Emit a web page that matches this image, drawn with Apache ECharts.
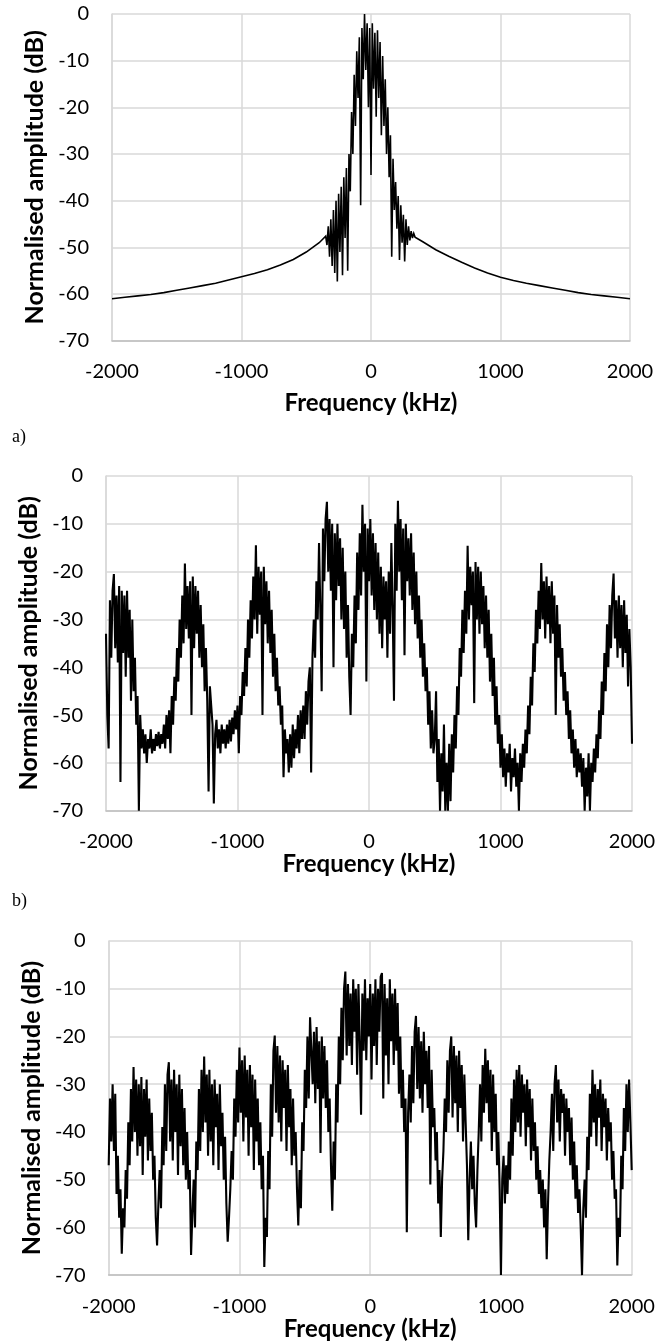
<!DOCTYPE html>
<html><head><meta charset="utf-8">
<script src="https://cdn.jsdelivr.net/npm/echarts@6/dist/echarts.min.js"></script>
<style>html,body{margin:0;padding:0;background:#fff}#c{width:668px;height:1342px}</style>
</head><body><div id="c"></div>
<script>
// ---------- data ----------
const xTicks = [-2000, -1000, 0, 1000, 2000];
const yTicks = [-70, -60, -50, -40, -30, -20, -10, 0];
const panelLabels = ['a)', 'b)'];

// chart a) : smooth skirts sampled every 100 kHz, noisy core every 10 kHz
const freqA_left = [-2000,-1900,-1800,-1700,-1600,-1500,-1400,-1300,-1200,-1100,-1000,-900,-800,-700,-600,-500,-400];
const ampA_left = [-61.0,-60.7,-60.4,-60.1,-59.7,-59.2,-58.7,-58.2,-57.7,-57.0,-56.3,-55.6,-54.8,-53.8,-52.6,-51.0,-49.0];
const freqA_coreStart = -350, freqA_coreStep = 10;
const ampA_core = [
 -47.6,-49.5,-45.5,-52,-44,-54,-42,-55.5,-40,-57.3,
 -38.5,-51,-37,-56,-35,-48,-33,-55,-30,-38,
 -21,-30,-13,-24,-8,-18,-5,-41,-3,-14,
 0,-12,-2,-20,-3,-34.5,-2,-16,-4,-22,
 -3.5,-18,-6,-26,-9,-24,-14,-30,-20,-35,
 -26,-52,-31,-42,-36,-46,-39,-52.7,-41,-49,
 -43,-53,-44,-49.5,-45.5,-48.5,-46.5,-48,-47,-47.8,
 -47.9];
const freqA_right = [400,500,600,700,800,900,1000,1100,1200,1300,1400,1500,1600,1700,1800,1900,2000];
const ampA_right = [-48.8,-50.5,-51.9,-53.2,-54.4,-55.5,-56.4,-57.1,-57.7,-58.2,-58.7,-59.2,-59.7,-60.1,-60.4,-60.7,-61.0];

// charts b) and c) : -2000 .. 2000 kHz every 10 kHz
const freqBC_start = -2000, freqBC_step = 10;
const ampB = [
 -33,-50,-57,-26,-38,-24,-20.5,-36,-25,-39,
 -23,-64,-24,-37,-25,-42,-24,-38,-28,-47,
 -30,-45,-38,-52,-46,-70,-50,-57,-53,-58,
 -54,-60,-55,-57,-53,-58,-55,-57.5,-54,-56.5,
 -53.5,-57,-54,-56,-52,-57,-50,-55,-49,-58,
 -46,-52,-42,-47,-36,-43,-30,-38,-25,-35,
 -18.3,-32,-23,-34,-22,-50,-21,-36,-23,-33,
 -24,-38,-27,-40,-31,-45,-36,-47,-66,-44,
 -48,-52,-68.5,-54,-51,-57,-53,-58,-52,-56,
 -53,-57,-52,-56,-51,-55.5,-50.5,-54,-49,-53,
 -48,-58,-46,-50,-41,-46,-36,-44,-30,-38,
 -26,-34,-21,-30,-14.5,-33,-19,-29,-20,-50,
 -19,-31,-22,-35,-24,-37,-28,-42,-33,-45,
 -38,-48,-44,-52,-48,-63,-53,-58,-55,-62,
 -54,-61,-52,-59,-53,-57,-50,-58,-49,-55,
 -48,-55,-45,-52,-43,-40,-62,-38,-30,-38,
 -22,-30,-14,-28,-45,-11,-22,-9,-5.4,-20,
 -9,-24,-10,-40,-12,-26,-10,-23,-13,-30,
 -15,-32,-20,-38,-27,-42,-50,-33,-40,-25,
 -35,-16,-28,-12,-25,-6,-20,-10,-43,-11,
 -22,-9,-25,-12,-28,-14,-30,-16,-33,-19,
 -36,-21,-30,-22,-38,-20,-33,-14,-28,-47,
 -10,-24,-5.2,-20,-9,-26,-11,-37.5,-10,-22,
 -13,-25,-12,-28,-16,-31,-20,-34,-25,-38,
 -30,-42,-35,-45,-40,-52,-45,-57,-49,-58,
 -55,-45,-64,-55,-70,-58,-66,-52,-70,-60,
 -70,-56,-68,-54,-62,-50,-57,-44,-50,-36,
 -42,-28,-37,-24,-33,-14.6,-30,-19,-27,-20,
 -47.5,-18,-30,-19,-33,-20,-31,-23,-36,-25,
 -38,-28,-43,-33,-46,-38,-52,-44,-56,-50,
 -61,-54,-63,-57,-65,-58,-62,-56,-66,-59,
 -63,-57,-65,-60,-70,-58,-64,-56,-61,-53,
 -58,-48,-54,-42,-48,-35,-41,-28,-35,-24,
 -32,-18.2,-30,-22,-34,-21,-31,-23,-35,-22,
 -33,-25,-50,-27,-38,-31,-42,-36,-47,-41,
 -50,-45,-55,-49,-58,-53,-61,-55,-63,-57,
 -62,-58,-65,-59,-70,-61,-67,-58,-70,-60,
 -64,-57,-62,-54,-59,-49,-55,-43,-50,-37,
 -45,-31,-40,-27,-36,-25,-20.4,-34,-26,-38,
 -25,-36,-27,-40,-26,-37,-29,-44,-32,-40,
 -56];
const ampC = [
 -47,-33,-42,-30,-44,-32,-53,-45,-58,-52,
 -65.5,-56,-60,-48,-54,-38,-47,-31,-42,-26.4,
 -40,-29,-45,-30,-43,-28.5,-49,-31,-41,-29,
 -46,-33,-44,-36,-50,-45,-58,-63.8,-55,-48,
 -56,-39,-47,-30,-44,-28,-25.4,-42,-29,-46,
 -27,-40,-30,-49,-28,-43,-31,-47,-35,-50,
 -40,-52,-48,-65.8,-57,-50,-60,-42,-48,-31,
 -44,-27,-40,-24.2,-38,-28,-45,-27,-42,-30,
 -47,-29,-39,-32,-48,-30,-43,-36,-50,-41,
 -55,-63,-58,-52,-44,-50,-33,-41,-27,-38,
 -22.3,-36,-25,-42,-24,-37,-27,-45,-26,-39,
 -28,-48,-29,-42,-33,-47,-38,-52,-45,-68.3,
 -58,-62,-44,-52,-30,-41,-23,-19.8,-36,-22,
 -38,-24,-42,-25,-35,-27,-44,-26,-39,-31,
 -47,-33,-45,-40,-52,-59.6,-48,-56,-38,-44,
 -27,-35,-20,-33,-16,-15.7,-30,-19,-34,-18,
 -31,-21,-44.4,-20,-33,-22,-35,-25,-40,-33,
 -47,-56.5,-42,-50,-30,-38,-20,-30,-14,-25,
 -10,-6.4,-24,-9,-22,-11,-26,-8,-19,-10,
 -28,-9,-21,-36.4,-11,-23,-8,-25,-12,-20,
 -9,-29,-11,-22,-8,-26,-10,-19,-7.5,-6.7,
 -33,-9,-24,-12,-30,-8,-21,-11,-26,-10,
 -23,-13,-32,-20,-35,-27,-40,-33,-61,-36,
 -28,-38,-22,-34,-19,-15.7,-31,-18,-33,-21,
 -36,-19,-30,-23,-35,-22,-51,-27,-39,-35,
 -46,-40,-55,-48,-62,-50,-44,-33,-40,-25,
 -36,-23,-20,-37,-22,-34,-24,-40,-23,-35,
 -26,-42,-28,-38,-47,-62.7,-50,-42,-52,-45,
 -55,-60,-48,-40,-30,-42,-26,-36,-22.6,-34,
 -25,-38,-27,-44,-28,-40,-32,-47,-40,-52,
 -70,-50,-45,-55,-47,-53,-42,-50,-33,-45,
 -29,-40,-27,-38,-26,-41,-28,-36,-30,-43,
 -29,-39,-31,-46,-33,-44,-38,-50,-43,-53,
 -48,-56,-50,-60,-52,-66.7,-55,-46,-40,-32,
 -44,-30,-26,-38,-29,-42,-31,-36,-32,-45,
 -33,-40,-35,-47,-37,-50,-42,-54,-47,-57,
 -52,-60,-70,-56,-50,-58,-41,-48,-32,-41,
 -27,-38,-30,-43,-31,-37,-29,-44,-32,-39,
 -33,-46,-35,-42,-38,-50,-44,-54,-52,-68,
 -58,-62,-45,-52,-35,-44,-30,-40,-29,-38,
 -48];

// ---------- build pairs ----------
const dataA = [];
freqA_left.forEach((f, i) => dataA.push([f, ampA_left[i]]));
ampA_core.forEach((v, i) => dataA.push([freqA_coreStart + i * freqA_coreStep, v]));
freqA_right.forEach((f, i) => dataA.push([f, ampA_right[i]]));
const dataB = ampB.map((v, i) => [freqBC_start + i * freqBC_step, v]);
const dataC = ampC.map((v, i) => [freqBC_start + i * freqBC_step, v]);

// ---------- chart ----------
const FONT = 'Lato, "Noto Sans", sans-serif';
const GRID = '#d9d9d9';
const grids = [
  {left: 112, top: 14, width: 518, height: 326.7},
  {left: 106, top: 476, width: 526, height: 334.7},
  {left: 108.7, top: 941, width: 523, height: 337.3}
];
const xLabelMargin = [21, 21, 21];
const xNameGap = [51, 40, 38];
const yNameGap = [64, 59, 61];

function mkX(i) {
  return {
    type: 'value', gridIndex: i, min: xTicks[0], max: xTicks[xTicks.length - 1],
    interval: xTicks[1] - xTicks[0],
    name: 'Frequency (kHz)', nameLocation: 'middle', nameGap: xNameGap[i],
    nameTextStyle: {fontFamily: FONT, fontWeight: 'bold', fontSize: 24, color: '#000'},
    axisLine: {show: true, onZero: false, lineStyle: {color: '#bfbfbf', width: 1.5}},
    axisTick: {show: false},
    axisLabel: {fontFamily: FONT, fontSize: 20, color: '#000', margin: xLabelMargin[i],
                formatter: v => String(v)},
    splitLine: {show: true, lineStyle: {color: GRID, width: 1.5}}
  };
}
function mkY(i) {
  return {
    type: 'value', gridIndex: i, min: yTicks[0], max: yTicks[yTicks.length - 1],
    interval: yTicks[1] - yTicks[0],
    name: 'Normalised amplitude (dB)', nameLocation: 'middle', nameGap: yNameGap[i],
    nameTextStyle: {fontFamily: FONT, fontWeight: 'bold', fontSize: 25, color: '#000'},
    axisLine: {show: true, onZero: false, lineStyle: {color: GRID, width: 1.5}},
    axisTick: {show: false},
    axisLabel: {fontFamily: FONT, fontSize: 20, color: '#000', margin: 23,
                formatter: v => String(v)},
    splitLine: {show: true, lineStyle: {color: GRID, width: 1.5}}
  };
}
function mkS(i, data, w) {
  return {
    type: 'line', xAxisIndex: i, yAxisIndex: i, data: data,
    showSymbol: false, symbol: 'none', sampling: null, silent: true,
    lineStyle: {color: '#000', width: w, join: 'miter', miterLimit: 4}, z: 3
  };
}

const chart = echarts.init(document.getElementById('c'), null, {renderer: 'canvas'});
chart.setOption({
  animation: false,
  backgroundColor: '#fff',
  title: [
    {text: panelLabels[0], left: 12, top: 428, padding: 0,
     textStyle: {fontFamily: '"Liberation Serif", serif', fontSize: 18, fontWeight: 'normal', color: '#000'}},
    {text: panelLabels[1], left: 12, top: 892, padding: 0,
     textStyle: {fontFamily: '"Liberation Serif", serif', fontSize: 18, fontWeight: 'normal', color: '#000'}}
  ],
  grid: grids,
  xAxis: [mkX(0), mkX(1), mkX(2)],
  yAxis: [mkY(0), mkY(1), mkY(2)],
  series: [mkS(0, dataA, 1.6), mkS(1, dataB, 2.1), mkS(2, dataC, 2.1)]
});
</script></body></html>
